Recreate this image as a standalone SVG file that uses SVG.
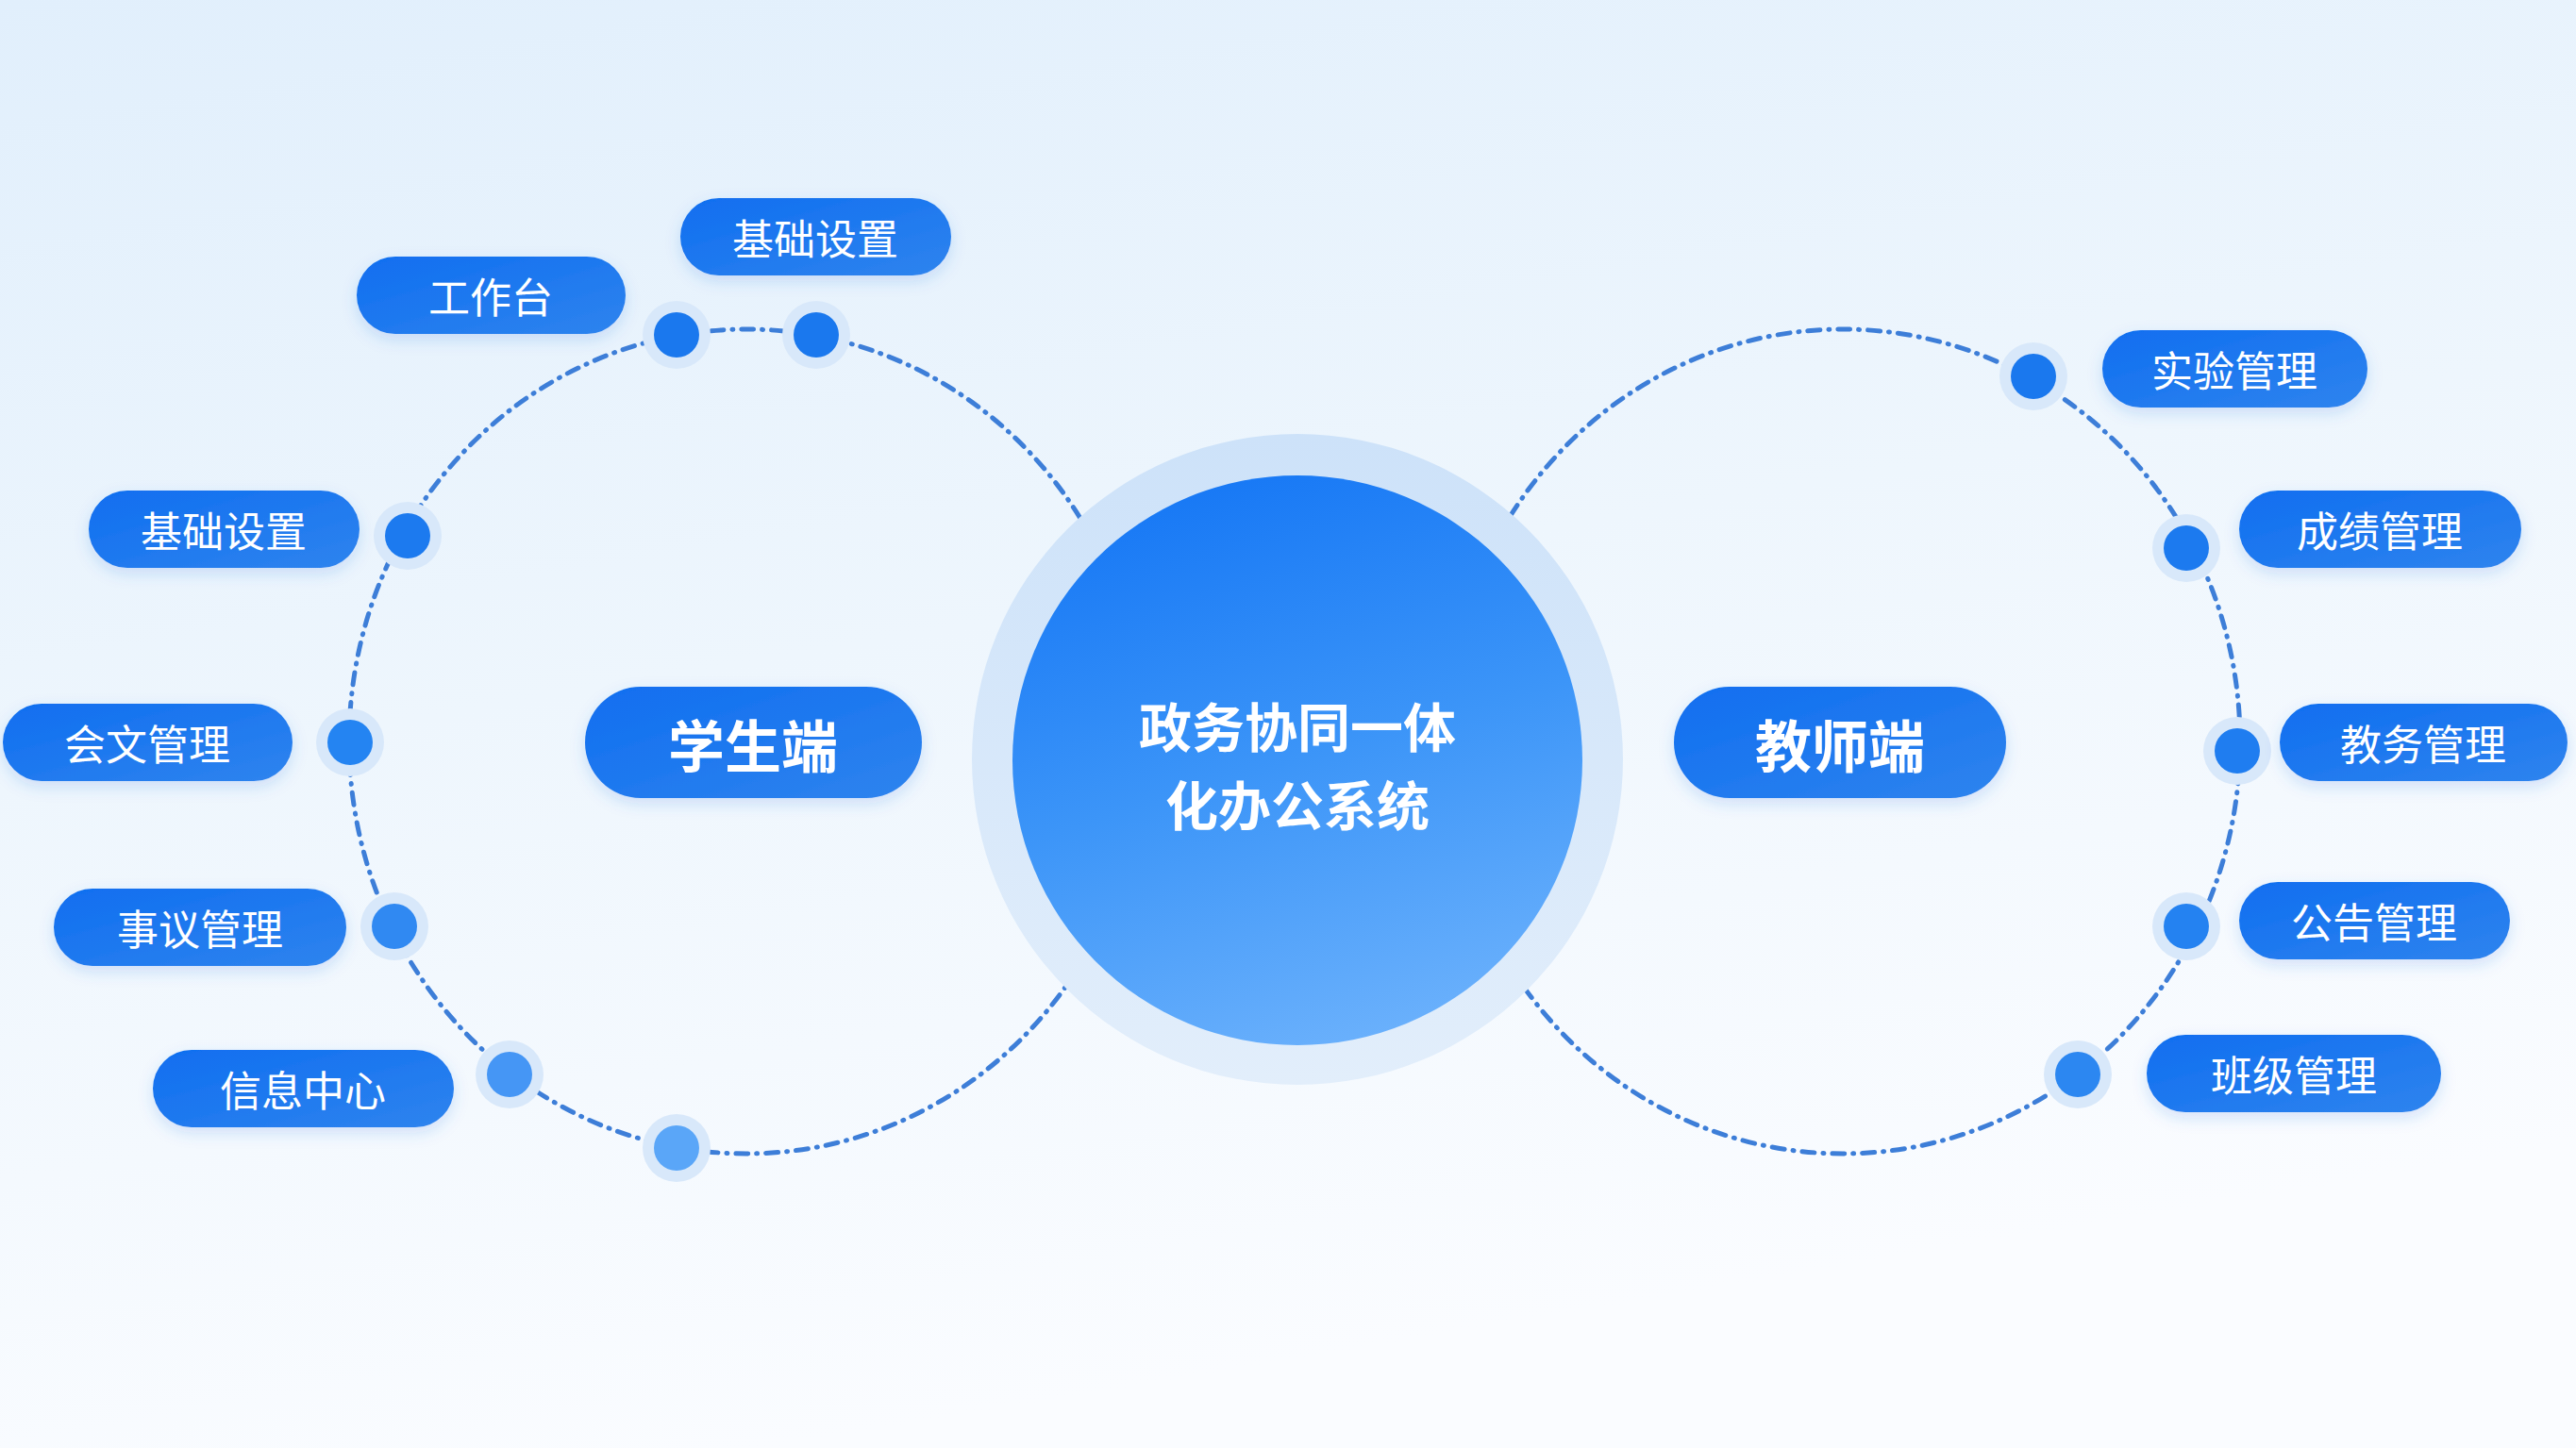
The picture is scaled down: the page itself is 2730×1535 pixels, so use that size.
<svg xmlns="http://www.w3.org/2000/svg" width="2730" height="1535" viewBox="0 0 2730 1535">
  <defs>
    <linearGradient id="bg" x1="0" y1="0" x2="0.3" y2="1">
      <stop offset="0" stop-color="#E1EFFC"/>
      <stop offset="0.5" stop-color="#EEF6FD"/>
      <stop offset="1" stop-color="#FAFCFF"/>
    </linearGradient>
    <linearGradient id="pill" x1="0" y1="0" x2="1" y2="1">
      <stop offset="0" stop-color="#0F6EF0"/>
      <stop offset="1" stop-color="#2F84EE"/>
    </linearGradient>
    <linearGradient id="core" x1="0.35" y1="0" x2="0.65" y2="1">
      <stop offset="0" stop-color="#1778F5"/>
      <stop offset="0.5" stop-color="#3C95F8"/>
      <stop offset="1" stop-color="#6BB1FC"/>
    </linearGradient>
    <linearGradient id="halo" x1="0" y1="0" x2="0" y2="1">
      <stop offset="0" stop-color="#CDE2F9"/>
      <stop offset="1" stop-color="#E2EEFB"/>
    </linearGradient>
    <filter id="sh" x="-20%" y="-30%" width="140%" height="170%">
      <feDropShadow dx="0" dy="6" stdDeviation="8" flood-color="#1a6fe0" flood-opacity="0.18"/>
    </filter>
  </defs>
  <style>
    .ring { fill: none; stroke: #3D7ED8; stroke-width: 5; stroke-dasharray: 13 9 1 9; stroke-linecap: round; }
    .pill { fill: url(#pill); filter: url(#sh); }
    .lbl { fill: #FFFFFF; font-family: "Noto Sans CJK SC", "Noto Sans", sans-serif; font-size: 44px; font-weight: 400; text-anchor: middle; dominant-baseline: central; }
    .big { fill: #FFFFFF; font-family: "Noto Sans CJK SC", "Noto Sans", sans-serif; font-size: 60px; font-weight: 700; text-anchor: middle; dominant-baseline: central; }
    .title { fill: #FFFFFF; font-family: "Noto Sans CJK SC", "Noto Sans", sans-serif; font-size: 56px; font-weight: 700; text-anchor: middle; dominant-baseline: central; }
    .dh { fill: #D8E8FA; }
  </style>

  <rect x="0" y="0" width="2730" height="1535" fill="url(#bg)"/>

  <g id="connectors">
    <ellipse class="ring" cx="791" cy="786" rx="421" ry="437"/>
    <ellipse class="ring" cx="1953" cy="786" rx="421" ry="437"/>
  </g>

  <g id="center">
    <circle cx="1375" cy="805" r="345" fill="url(#halo)"/>
    <circle cx="1375" cy="806" r="302" fill="url(#core)"/>
    <text class="title" x="1375" y="767">政务协同一体</text>
    <text class="title" x="1375" y="850">化办公系统</text>
  </g>

  <g id="student">
    <rect class="pill" x="620" y="728" width="357" height="118" rx="59"/>
    <text class="big" x="798" y="787">学生端</text>
  </g>
  <g id="teacher">
    <rect class="pill" x="1774" y="728" width="352" height="118" rx="59"/>
    <text class="big" x="1950" y="787">教师端</text>
  </g>

  <g id="dots">
    <g id="dot-l1"><circle class="dh" cx="717" cy="355" r="36"/><circle cx="717" cy="355" r="24" fill="#1A78EE"/></g>
    <g id="dot-l2"><circle class="dh" cx="865" cy="355" r="36"/><circle cx="865" cy="355" r="24" fill="#1A78EE"/></g>
    <g id="dot-l3"><circle class="dh" cx="432" cy="568" r="36"/><circle cx="432" cy="568" r="24" fill="#1C7AEF"/></g>
    <g id="dot-l4"><circle class="dh" cx="371" cy="787" r="36"/><circle cx="371" cy="787" r="24" fill="#2484F2"/></g>
    <g id="dot-l5"><circle class="dh" cx="418" cy="982" r="36"/><circle cx="418" cy="982" r="24" fill="#3089F2"/></g>
    <g id="dot-l6"><circle class="dh" cx="540" cy="1139" r="36"/><circle cx="540" cy="1139" r="24" fill="#4596F5"/></g>
    <g id="dot-l7"><circle class="dh" cx="717" cy="1217" r="36" fill="#E3EEFB"/><circle cx="717" cy="1217" r="24" fill="#5AA6F8"/></g>
    <g id="dot-r1"><circle class="dh" cx="2155" cy="399" r="36"/><circle cx="2155" cy="399" r="24" fill="#1A78EE"/></g>
    <g id="dot-r2"><circle class="dh" cx="2317" cy="581" r="36"/><circle cx="2317" cy="581" r="24" fill="#1C7AEF"/></g>
    <g id="dot-r3"><circle class="dh" cx="2371" cy="796" r="36"/><circle cx="2371" cy="796" r="24" fill="#1F7DF0"/></g>
    <g id="dot-r4"><circle class="dh" cx="2317" cy="982" r="36"/><circle cx="2317" cy="982" r="24" fill="#2482F1"/></g>
    <g id="dot-r5"><circle class="dh" cx="2202" cy="1139" r="36"/><circle cx="2202" cy="1139" r="24" fill="#2C87F1"/></g>
  </g>

  <g id="n-gongzuotai"><rect class="pill" x="378" y="272" width="285" height="82" rx="41"/><text class="lbl" x="520" y="313">工作台</text></g>
  <g id="n-jichu-top"><rect class="pill" x="721" y="210" width="287" height="82" rx="41"/><text class="lbl" x="864" y="251">基础设置</text></g>
  <g id="n-jichu-left"><rect class="pill" x="94" y="520" width="287" height="82" rx="41"/><text class="lbl" x="237" y="561">基础设置</text></g>
  <g id="n-huiwen"><rect class="pill" x="3" y="746" width="307" height="82" rx="41"/><text class="lbl" x="156" y="787">会文管理</text></g>
  <g id="n-shiyi"><rect class="pill" x="57" y="942" width="310" height="82" rx="41"/><text class="lbl" x="212" y="983">事议管理</text></g>
  <g id="n-xinxi"><rect class="pill" x="162" y="1113" width="319" height="82" rx="41"/><text class="lbl" x="321" y="1154">信息中心</text></g>

  <g id="n-shiyan"><rect class="pill" x="2228" y="350" width="281" height="82" rx="41"/><text class="lbl" x="2368" y="391">实验管理</text></g>
  <g id="n-chengji"><rect class="pill" x="2373" y="520" width="299" height="82" rx="41"/><text class="lbl" x="2522" y="561">成绩管理</text></g>
  <g id="n-jiaowu"><rect class="pill" x="2416" y="746" width="305" height="82" rx="41"/><text class="lbl" x="2568" y="787">教务管理</text></g>
  <g id="n-gonggao"><rect class="pill" x="2373" y="935" width="287" height="82" rx="41"/><text class="lbl" x="2516" y="976">公告管理</text></g>
  <g id="n-banji"><rect class="pill" x="2275" y="1097" width="312" height="82" rx="41"/><text class="lbl" x="2431" y="1138">班级管理</text></g>
</svg>
